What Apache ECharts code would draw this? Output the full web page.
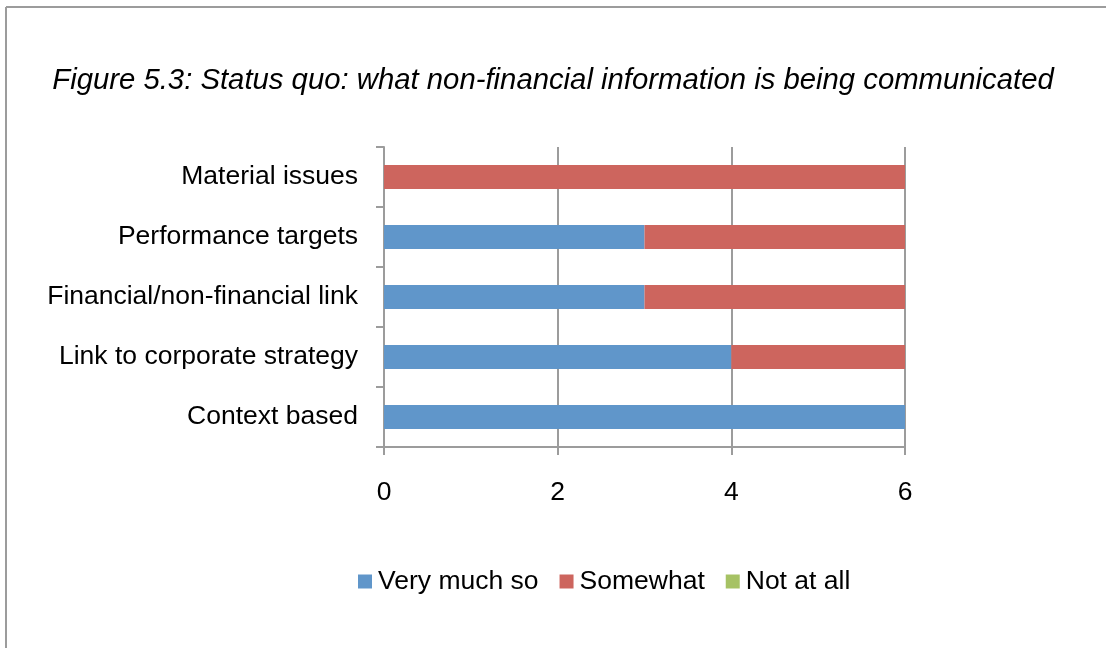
<!DOCTYPE html>
<html>
<head>
<meta charset="utf-8">
<script src="https://cdn.jsdelivr.net/npm/echarts@6/dist/echarts.min.js"></script>
<style>
  html, body { margin: 0; padding: 0; background: #fff; }
  #chart { width: 1106px; height: 648px; }
</style>
</head>
<body>
<div id="chart"></div>
<script>
// Categories listed top to bottom
const categories = [
  'Material issues',
  'Performance targets',
  'Financial/non-financial link',
  'Link to corporate strategy',
  'Context based'
];
const veryMuchSo = [0, 3, 3, 4, 6];
const somewhat   = [6, 3, 3, 2, 0];
const notAtAll   = [0, 0, 0, 0, 0];
const xTicks = [0, 2, 4, 6];

const titleText = 'Figure 5.3: Status quo: what non-financial information is being communicated';
const seriesNames = ['Very much so', 'Somewhat', 'Not at all'];
const colors = ['#6096CA', '#CD655E', '#A6C264'];
const font = 'Liberation Sans, Arial, Helvetica, sans-serif';
const axisGray = '#9c9c9c';

const chart = echarts.init(document.getElementById('chart'), null, { renderer: 'canvas' });

const mkSeries = (name, data, color) => ({
  name: name,
  type: 'bar',
  stack: 'total',
  data: data,
  barWidth: 24,
  itemStyle: { color: color },
  emphasis: { disabled: true }
});

chart.setOption({
  animation: false,
  backgroundColor: '#ffffff',
  title: {
    text: titleText,
    left: 'center',
    top: 61,
    textStyle: {
      fontFamily: font,
      fontStyle: 'italic',
      fontWeight: 'normal',
      fontSize: 29.3,
      color: '#000'
    }
  },
  legend: {
    data: seriesNames,
    top: 563,
    left: 353,
    itemWidth: 14,
    itemHeight: 14,
    itemGap: 21,
    icon: 'rect',
    textStyle: { fontFamily: font, fontSize: 26.5, color: '#000', padding: [0, 0, 0, 1] }
  },
  grid: { left: 384, right: 201, top: 147, bottom: 201, containLabel: false },
  xAxis: {
    type: 'value',
    min: xTicks[0],
    max: xTicks[xTicks.length - 1],
    interval: xTicks[1] - xTicks[0],
    axisLine: { show: true, lineStyle: { color: axisGray, width: 2 } },
    axisTick: { show: true, length: 8, lineStyle: { color: axisGray, width: 2 } },
    splitLine: { show: true, lineStyle: { color: axisGray, width: 2 } },
    axisLabel: { fontFamily: font, fontSize: 26.5, color: '#000', margin: 32 }
  },
  yAxis: {
    type: 'category',
    data: categories,
    inverse: true,
    axisLine: { show: true, lineStyle: { color: axisGray, width: 2 } },
    axisTick: { show: true, length: 8, lineStyle: { color: axisGray, width: 2 } },
    axisLabel: { fontFamily: font, fontSize: 26.5, color: '#000', margin: 26, padding: [8, 0, 0, 0] }
  },
  series: [
    mkSeries(seriesNames[0], veryMuchSo, colors[0]),
    mkSeries(seriesNames[1], somewhat, colors[1]),
    mkSeries(seriesNames[2], notAtAll, colors[2])
  ],
  graphic: [
    { type: 'line', shape: { x1: 6, y1: 7, x2: 1106, y2: 7 }, style: { stroke: axisGray, lineWidth: 2 } },
    { type: 'line', shape: { x1: 6, y1: 7, x2: 6, y2: 648 }, style: { stroke: axisGray, lineWidth: 2 } }
  ]
});
</script>
</body>
</html>
